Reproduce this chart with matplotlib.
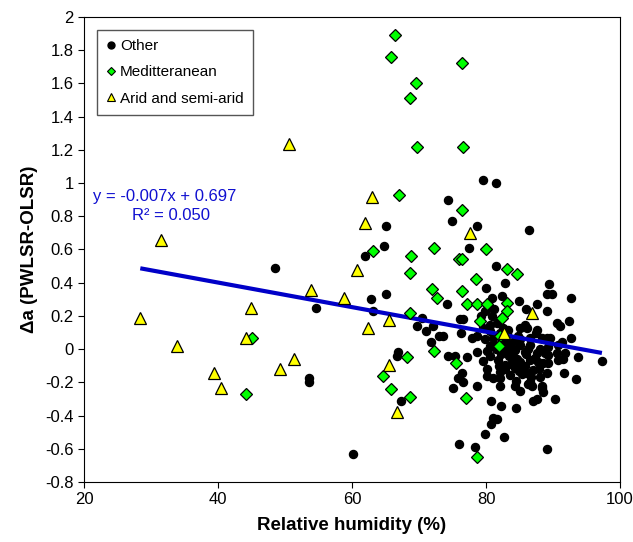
import numpy as np
import matplotlib.pyplot as plt
from matplotlib.lines import Line2D

plt.rcParams['font.family'] = ['Liberation Sans', 'DejaVu Sans']

# "Other" stations (black circles)
other_x = [48.5, 54.6, 53.6, 53.6, 60.1, 64.8, 61.9, 65.1, 62.8, 65.1, 63.1, 66.9, 67.3,
           79.6, 81.5, 74.3, 74.9, 78.7, 86.4, 77.5, 81.5, 82.8, 89.4, 80.0, 89.1, 89.9,
           92.7, 74.2, 84.9, 87.6, 86.0, 89.1, 70.4, 76.1, 76.6, 90.6, 92.4, 72.1, 69.7,
           71.0, 73.0, 76.3, 78.7, 71.8, 85.1, 86.1, 89.1, 92.7, 80.9, 82.4, 85.8, 79.9,
           80.9, 80.6, 81.6, 79.6, 77.9, 80.6, 73.6, 74.3, 77.2, 78.7, 79.6, 80.6, 76.4,
           75.8, 76.6, 75.1, 80.1, 81.0, 82.1, 80.7, 82.2, 84.5, 87.0, 87.6, 84.3, 85.1,
           86.6, 81.0, 93.7, 97.3, 91.6, 93.4, 90.3, 89.1, 82.7, 79.9, 80.7, 81.6, 78.4,
           76.0, 78.7, 75.4, 66.7, 80.1, 80.1, 82.1, 82.1, 84.5, 86.0, 86.7, 88.1, 88.4,
           88.5, 89.1, 86.3, 87.3, 89.3, 89.3, 90.7, 87.6, 88.4, 89.6, 91.3, 90.7, 88.1,
           89.3, 88.8, 87.6, 90.6, 91.8, 86.6, 87.8, 88.5, 91.5, 87.0, 87.9, 86.9, 88.4,
           82.1, 87.5, 91.0, 82.8, 83.6, 84.3, 83.3, 85.1, 85.8, 83.9, 85.1, 82.8, 84.3,
           85.8, 83.6, 85.4, 81.8, 82.5, 86.6, 86.6, 84.8, 83.3, 81.3, 81.0,
           83.0, 84.0, 85.0, 86.2, 83.5, 84.6, 82.3, 81.5, 83.8, 84.9, 86.0, 82.9,
           79.2, 80.3, 81.2, 79.8, 80.6, 81.9, 83.2, 84.1, 85.3, 82.6]
other_y = [0.49, 0.25, -0.175, -0.20, -0.63, 0.62, 0.56, 0.74, 0.30, 0.33, 0.23, -0.02, -0.31,
           1.02, 1.00, 0.90, 0.77, 0.74, 0.72, 0.61, 0.50, 0.40, 0.39, 0.37, 0.33, 0.33,
           0.31, 0.27, 0.29, 0.27, 0.24, 0.23, 0.19, 0.18, 0.18, 0.16, 0.17, 0.14, 0.14,
           0.11, 0.08, 0.10, 0.08, 0.04, 0.13, 0.13, 0.07, 0.07, 0.31, 0.32, 0.145, 0.23,
           0.20, 0.145, 0.16, 0.13, 0.07, 0.11, 0.08, -0.04, -0.05, -0.02, -0.07, -0.04, -0.145,
           -0.175, -0.20, -0.235, -0.16, -0.175, -0.22, -0.31, -0.34, -0.355, -0.31, -0.30, -0.22, -0.25,
           -0.20, -0.415, -0.05, -0.07, -0.145, -0.18, -0.30, -0.60, -0.53, -0.51, -0.45, -0.42, -0.59,
           -0.57, -0.22, -0.04, -0.04, -0.01, -0.12, -0.14, -0.175, -0.19, -0.145, -0.17, -0.17, -0.235,
           -0.26, -0.145, -0.21, -0.055, -0.035, -0.085, -0.065, 0.115, 0.065, 0.065, 0.04, 0.025, 0.0,
           0.01, -0.025, -0.025, -0.025, -0.025, -0.065, -0.08, -0.085, -0.06, -0.125, -0.12, -0.22, -0.22,
           0.10, 0.10, 0.14, 0.055, 0.025, -0.005, -0.02, 0.025, -0.02, -0.055, -0.08, -0.095, -0.115,
           -0.10, -0.155, -0.15, -0.065, -0.005, 0.025, 0.065, 0.08, 0.115, 0.025, 0.065,
           0.0, 0.04, 0.06, 0.0, -0.04, -0.06, -0.03, 0.0, -0.09, -0.13, -0.03, -0.12,
           0.20, 0.25, 0.24, 0.06, 0.02, -0.10, 0.09, -0.02, -0.13, 0.13]

# Mediterranean stations (green diamonds)
med_x = [66.4, 65.8, 69.6, 68.7, 69.7, 76.4, 76.6, 67.0, 76.4, 80.0, 72.2, 63.1, 68.8, 68.7,
         76.0, 76.4, 83.1, 84.6, 78.5, 71.9, 72.7, 76.4, 77.2, 78.7, 80.1, 83.1, 83.1, 68.7,
         79.1, 82.4, 82.1, 81.9, 45.1, 44.2, 68.2, 64.6, 65.8, 68.7, 72.2, 75.5, 77.0, 78.7]
med_y = [1.89, 1.76, 1.60, 1.51, 1.22, 1.72, 1.22, 0.93, 0.84, 0.60, 0.61, 0.59, 0.56, 0.46,
         0.54, 0.54, 0.48, 0.45, 0.42, 0.36, 0.31, 0.35, 0.27, 0.27, 0.27, 0.28, 0.23, 0.22,
         0.17, 0.19, 0.08, 0.02, 0.07, -0.27, -0.05, -0.16, -0.24, -0.29, -0.01, -0.085, -0.295, -0.65]

# Arid and semi-arid stations (yellow triangles)
arid_x = [28.4, 31.5, 33.9, 39.4, 40.4, 44.2, 44.9, 49.3, 51.3, 50.6, 53.9, 58.8, 60.7,
          63.0, 61.9, 65.5, 62.4, 65.5, 66.7, 77.6, 86.9, 82.7]
arid_y = [0.19, 0.66, 0.02, -0.145, -0.235, 0.065, 0.25, -0.12, -0.06, 1.235, 0.355, 0.31, 0.475,
          0.915, 0.76, 0.175, 0.125, -0.095, -0.38, 0.70, 0.22, 0.10]

# regression
slope = -0.0074
intercept = 0.697

yticks = [2, 1.8, 1.6, 1.4, 1.2, 1, 0.8, 0.6, 0.4, 0.2, 0, -0.2, -0.4, -0.6, -0.8]
ytick_labels = ['2', '1.8', '1.6', '1.4', '1.2', '1', '0.8', '0.6', '0.4', '0.2',
                '0', '-0.2', '-0.4', '-0.6', '-0.8']
xticks = [20, 40, 60, 80, 100]

fig = plt.figure(figsize=(6.33, 5.42), dpi=100)
ax = fig.add_axes([84 / 633, 60 / 542, 536 / 633, 465 / 542])

ax.plot(other_x, other_y, 'o', color='black', markersize=5.8, zorder=2)

all_x = other_x + med_x + arid_x
lx = np.array([min(all_x), max(all_x)])
ax.plot(lx, slope * lx + intercept, color='#0000c8', linewidth=3, zorder=3,
        solid_capstyle='butt')

ax.plot(med_x, med_y, 'D', color='#00ff00', markeredgecolor='black',
        markeredgewidth=0.9, markersize=6.4, zorder=4)
ax.plot(arid_x, arid_y, '^', color='#ffff00', markeredgecolor='black',
        markeredgewidth=0.9, markersize=9, zorder=5)

ax.set_xlim(20, 100)
ax.set_ylim(-0.8, 2)
ax.set_xticks(xticks)
ax.set_xticklabels([str(t) for t in xticks])
ax.set_yticks(yticks)
ax.set_yticklabels(ytick_labels)
ax.tick_params(direction='out', length=4, labelsize=12)

ax.set_xlabel('Relative humidity (%)', fontsize=13.5, fontweight='bold', labelpad=7)
ax.set_ylabel('Δa (PWLSR-OLSR)', fontsize=13.5, fontweight='bold', labelpad=5)

ax.text(0.017, 0.615, 'y = -0.007x + 0.697', transform=ax.transAxes,
        color='#1010d0', fontsize=12, va='center', ha='left')
ax.text(0.162, 0.574, 'R² = 0.050', transform=ax.transAxes,
        color='#1010d0', fontsize=12, va='center', ha='center')

handles = [
    Line2D([], [], marker='o', linestyle='none', color='black', markersize=5),
    Line2D([], [], marker='D', linestyle='none', color='#00ff00',
           markeredgecolor='black', markeredgewidth=0.8, markersize=4),
    Line2D([], [], marker='^', linestyle='none', color='#ffff00',
           markeredgecolor='black', markeredgewidth=0.8, markersize=6),
]
leg = ax.legend(handles, ['Other', 'Meditteranean', 'Arid and semi-arid'],
                loc='upper left', bbox_to_anchor=(0.024, 0.972), borderaxespad=0,
                fontsize=11, fancybox=False, edgecolor='#555555', framealpha=1,
                handlelength=0.6, handletextpad=0.3, labelspacing=0.8,
                borderpad=0.6)
leg.get_frame().set_linewidth(1)

fig.savefig('out.png', dpi=100)
